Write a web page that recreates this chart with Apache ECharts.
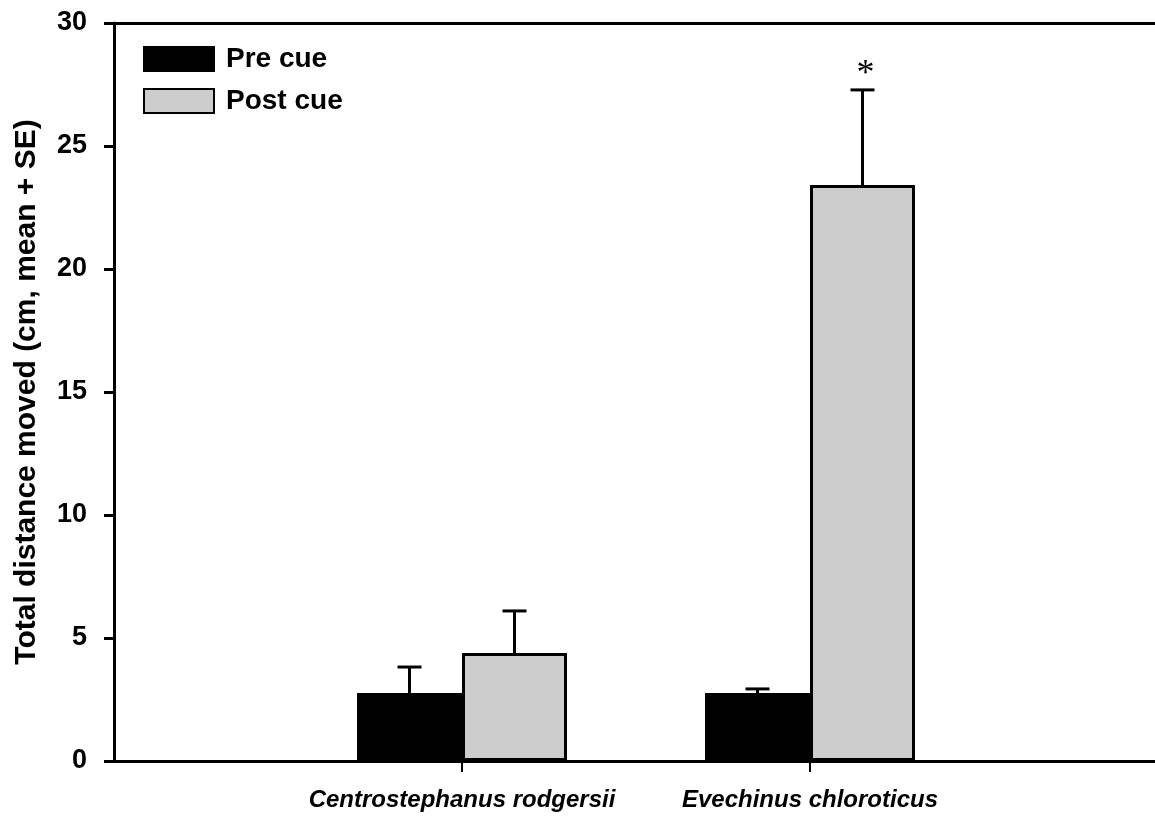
<!DOCTYPE html>
<html>
<head>
<meta charset="utf-8">
<script src="https://cdn.jsdelivr.net/npm/echarts@6/dist/echarts.min.js"></script>
<style>
html,body{margin:0;padding:0;background:#fff;overflow:hidden;}
#chart{width:1155px;height:817px;}
</style>
</head>
<body>
<div id="chart"></div>
<script>
const categories = ['', 'Centrostephanus rodgersii', 'Evechinus chloroticus', ' '];
const preMean = [null, 2.76, 2.76, null];
const preUpper = [null, 3.82, 2.93, null];
const postMean = [null, 4.39, 23.41, null];
const postUpper = [null, 6.10, 27.28, null];
const postSig = ['', '', '*', ''];
const seriesNames = ['Pre cue', 'Post cue'];
const yName = 'Total distance moved (cm, mean + SE)';

const FONT = "'Liberation Sans', Arial, sans-serif";
const BAR_W = 105;

function errData(means, uppers, side, sig) {
  const out = [];
  means.forEach((m, i) => {
    if (m == null) return;
    out.push([i, m, uppers[i], side, sig ? sig[i] : '']);
  });
  return out;
}

function renderErr(params, api) {
  const idx = api.value(0);
  const base = api.coord([idx, api.value(1)]);
  const top = api.coord([idx, api.value(2)]);
  const side = api.value(3);
  const x = base[0] + side * BAR_W / 2;
  const cap = 12;
  const style = { stroke: '#000', lineWidth: 3 };
  const children = [
    { type: 'line', shape: { x1: x, y1: base[1], x2: x, y2: top[1] }, style },
    { type: 'line', shape: { x1: x - cap, y1: top[1], x2: x + cap, y2: top[1] }, style }
  ];
  const mark = api.value(4);
  if (mark && mark !== '') {
    children.push({
      type: 'text',
      style: { text: mark, x: x + 3, y: top[1] - 15, align: 'center', verticalAlign: 'middle',
               font: "36px 'Liberation Serif', 'DejaVu Serif', serif", fill: '#000' }
    });
  }
  return { type: 'group', children };
}

const chart = echarts.init(document.getElementById('chart'));
chart.setOption({
  animation: false,
  backgroundColor: '#fff',
  grid: { left: 114, width: 1044, top: 23, bottom: 56, containLabel: false, outerBoundsMode: 'none' },
  legend: {
    left: 143, top: 45, orient: 'vertical', padding: 0,
    itemWidth: 70, itemHeight: 24, itemGap: 14,
    data: seriesNames.map(n => ({ name: n, icon: 'rect' })),
    textStyle: { fontFamily: FONT, fontSize: 28, fontWeight: 'bold', color: '#000', padding: [0, 0, 0, 7] }
  },
  xAxis: [{
    type: 'category', data: categories, boundaryGap: false,
    axisLine: { lineStyle: { color: '#000', width: 3 } },
    axisTick: { length: 11, lineStyle: { color: '#000', width: 2 },
      interval: (i) => i === 1 || i === 2 },
    axisLabel: { interval: 0, margin: 27, color: '#000', fontFamily: FONT, fontSize: 24,
      fontWeight: 'bold', fontStyle: 'italic' },
    splitLine: { show: false }
  }, {
    type: 'category', data: categories, boundaryGap: false, position: 'top',
    axisLine: { lineStyle: { color: '#000', width: 3 } },
    axisTick: { show: false }, axisLabel: { show: false }, splitLine: { show: false }
  }],
  yAxis: {
    type: 'value', min: 0, max: 30, interval: 5,
    name: yName, nameLocation: 'middle', nameGap: 72, nameRotate: 90,
    nameTextStyle: { fontFamily: FONT, fontSize: 30, fontWeight: 'bold', color: '#000' },
    axisLine: { show: true, lineStyle: { color: '#000', width: 3 } },
    axisTick: { show: true, length: 10, lineStyle: { color: '#000', width: 3 } },
    axisLabel: { margin: 27, color: '#000', fontFamily: FONT, fontSize: 27, fontWeight: 'bold' },
    splitLine: { show: false }
  },
  series: [
    { name: seriesNames[0], type: 'bar', data: preMean, barWidth: BAR_W, barGap: '0%',
      itemStyle: { color: '#000', borderColor: '#000', borderWidth: 3 } },
    { name: seriesNames[1], type: 'bar', data: postMean, barWidth: BAR_W, barGap: '0%',
      itemStyle: { color: '#cccccc', borderColor: '#000', borderWidth: 3 } },
    { type: 'custom', renderItem: renderErr, data: errData(preMean, preUpper, -1), z: 5,
      encode: { x: 0, y: [1, 2] } },
    { type: 'custom', renderItem: renderErr, data: errData(postMean, postUpper, 1, postSig), z: 5,
      encode: { x: 0, y: [1, 2] } }
  ]
});
</script>
</body>
</html>
